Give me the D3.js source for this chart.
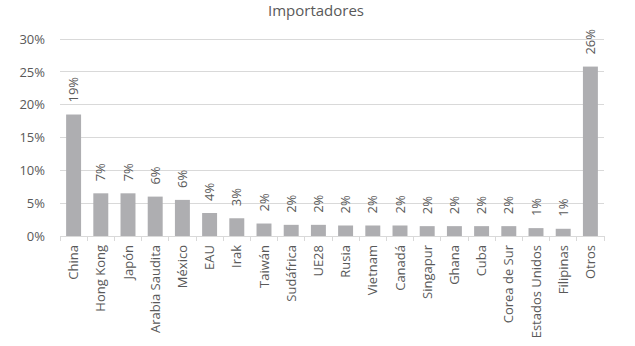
<!DOCTYPE html>
<html>
<head>
<meta charset="utf-8">
<script src="https://cdn.jsdelivr.net/npm/d3@7"></script>
<style>
  html, body { margin: 0; padding: 0; background: #fff; }
  svg { display: block; font-family: "Open Sans", sans-serif; }
</style>
</head>
<body>
<svg id="chart" width="635" height="346"></svg>
<script>
// Cuota de importación por país (%)
const categories = ["China", "Hong Kong", "Japón", "Arabia Saudita", "México", "EAU", "Irak",
  "Taiwán", "Sudáfrica", "UE28", "Rusia", "Vietnam", "Canadá", "Singapur", "Ghana", "Cuba",
  "Corea de Sur", "Estados Unidos", "Filipinas", "Otros"];
const values = [18.5, 6.5, 6.5, 6.0, 5.5, 3.5, 2.7, 1.9, 1.7, 1.7, 1.6, 1.6, 1.6, 1.5, 1.5, 1.5,
  1.5, 1.2, 1.1, 25.8];
const yTicks = [0, 5, 10, 15, 20, 25, 30];
const title = "Importadores";

const svg = d3.select("#chart");
const margin = { top: 39, right: 31, bottom: 110, left: 60 };
const W = 635, H = 346;
const innerW = W - margin.left - margin.right;
const innerH = H - margin.top - margin.bottom;
const textColor = "#595959";

const x = d3.scaleBand().domain(categories).range([0, innerW]).paddingInner(0.45).paddingOuter(0.225);
const y = d3.scaleLinear().domain([0, 30]).range([innerH, 0]);

const g = svg.append("g").attr("transform", `translate(${margin.left},${margin.top})`);

// Title
svg.append("text")
  .attr("x", 316).attr("y", 16)
  .attr("text-anchor", "middle")
  .attr("fill", textColor)
  .attr("font-size", 15)
  .text(title);

// Horizontal gridlines
g.append("g").selectAll("line").data(yTicks.filter(d => d > 0)).join("line")
  .attr("x1", 0).attr("x2", innerW)
  .attr("y1", d => y(d)).attr("y2", d => y(d))
  .attr("stroke", "#d9d9d9").attr("stroke-width", 1)
  .attr("shape-rendering", "crispEdges");

// Y axis labels
const yAxis = d3.axisLeft(y).tickValues(yTicks).tickSize(0).tickPadding(15).tickFormat(d => d + "%");
g.append("g").call(yAxis)
  .call(s => s.select(".domain").remove())
  .call(s => s.selectAll("text").attr("fill", textColor).attr("font-size", 13)
    .attr("font-family", "'Open Sans', sans-serif"));

// Bars
g.append("g").selectAll("rect").data(values).join("rect")
  .attr("x", (d, i) => x(categories[i]))
  .attr("y", d => y(d))
  .attr("width", x.bandwidth())
  .attr("height", d => y(0) - y(d))
  .attr("fill", "#aeaeb1");

// Value labels (rotated)
g.append("g").selectAll("text").data(values).join("text")
  .attr("transform", (d, i) => `translate(${x(categories[i]) + x.bandwidth() / 2 + 4.5},${y(d) - 12}) rotate(-90)`)
  .attr("text-anchor", "start")
  .attr("fill", textColor)
  .attr("font-size", 13)
  .text(d => Math.round(d) + "%");

// X axis line and ticks between categories
const step = x.step();
const xg = g.append("g").attr("transform", `translate(0,${innerH})`);
xg.append("line").attr("x1", 0).attr("x2", innerW).attr("y1", 0).attr("y2", 0)
  .attr("stroke", "#d9d9d9").attr("shape-rendering", "crispEdges");
xg.selectAll("line.tick").data(d3.range(categories.length + 1)).join("line")
  .attr("class", "tick")
  .attr("x1", i => i * step).attr("x2", i => i * step)
  .attr("y1", 0).attr("y2", 5)
  .attr("stroke", "#d9d9d9").attr("shape-rendering", "crispEdges");

// Category labels (rotated)
xg.selectAll("text").data(categories).join("text")
  .attr("transform", d => `translate(${x(d) + x.bandwidth() / 2 + 4.5},9) rotate(-90)`)
  .attr("text-anchor", "end")
  .attr("fill", textColor)
  .attr("font-size", 13)
  .text(d => d);
</script>
</body>
</html>
